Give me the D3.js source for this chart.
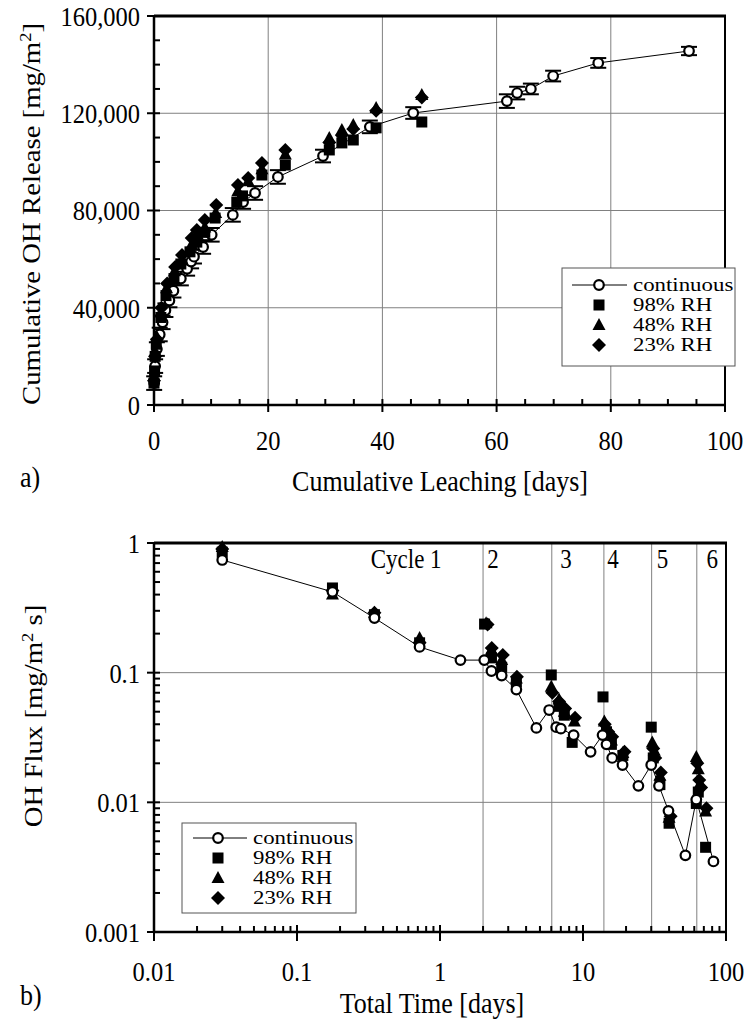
<!DOCTYPE html>
<html><head><meta charset="utf-8">
<script src="https://cdn.jsdelivr.net/npm/d3@7"></script>
<style>
html,body{margin:0;padding:0;background:#fff;}
svg{display:block;}
text{font-family:"Liberation Serif","Times New Roman",serif;fill:#000;}
</style></head><body>
<svg id="chart" width="746" height="1019"></svg>
<script>
// ---------- DATA: (a) cumulative OH release ----------
const seriesNames = ["continuous", "98% RH", "48% RH", "23% RH"];
const topXTicks = [0, 20, 40, 60, 80, 100];
const topYTicks = [0, 40000, 80000, 120000, 160000];

const contDays    = [0.03, 0.2, 0.5, 1.0, 1.5, 2.0, 2.7, 3.4, 4.7, 5.8, 6.5, 7.0, 8.6, 10.1, 13.8, 15.6, 17.7, 21.7, 29.6, 37.8, 45.4, 61.8, 63.6, 66.0, 69.9, 77.8, 93.7];
const contRelease = [9000, 16000, 23000, 29000, 34000, 39000, 43000, 47000, 52000, 56000, 59000, 61000, 65000, 70000, 78200, 83500, 87200, 93800, 102400, 114400, 120100, 125000, 128300, 130000, 135300, 140700, 145600];
const contErr     = [2800, 2800, 2800, 2800, 2800, 2800, 2800, 2800, 2800, 2800, 2800, 2800, 2800, 2800, 2800, 2800, 2800, 2800, 2600, 2600, 2400, 2800, 2600, 2200, 2200, 2000, 1700];

const rh98Days    = [0, 0.1, 0.2, 0.4, 1.2, 2.1, 3.5, 4.7, 6.3, 7.5, 8.9, 10.7, 14.5, 15.5, 18.9, 23.0, 30.7, 32.9, 34.9, 38.9, 46.9];
const rh98Release = [9000, 14000, 20000, 25000, 36000, 45000, 52000, 58000, 63000, 67000, 71000, 76900, 83500, 86000, 94600, 98700, 104900, 107800, 109000, 114000, 116400];

const rh48Days    = [0, 0.2, 0.5, 1.2, 2.2, 3.6, 4.9, 6.6, 7.6, 8.9, 10.8, 14.7, 16.5, 18.9, 23.0, 30.7, 32.9, 34.9, 38.9, 46.9];
const rh48Release = [12000, 22000, 28000, 38000, 48000, 55000, 60000, 66000, 70000, 73000, 79000, 88000, 92000, 97000, 103000, 109800, 113100, 115200, 122200, 127500];

const rh23Days    = [0, 0.2, 0.5, 1.3, 2.3, 3.7, 4.9, 6.6, 7.5, 8.9, 10.9, 14.7, 16.5, 18.9, 23.0, 30.7, 32.9, 34.9, 38.9, 46.9];
const rh23Release = [10000, 20000, 27000, 40000, 50000, 56800, 61700, 68700, 72000, 76100, 82300, 90500, 93400, 99500, 104900, 108000, 111000, 113500, 121000, 126500];

// ---------- DATA: (b) OH flux ----------
const botXTicks = [0.01, 0.1, 1, 10, 100];
const botXLabels = ["0.01", "0.1", "1", "10", "100"];
const botYTicks = [0.001, 0.01, 0.1, 1];
const botYLabels = ["0.001", "0.01", "0.1", "1"];
const cycleBounds = [2.0, 6.05, 14.0, 30.2, 62.5];
const cycleLabels = ["Cycle 1", "2", "3", "4", "5", "6"];
const cycleLabelX = [0.58, 2.35, 7.6, 16.2, 36, 80];

const contTime = [0.030, 0.177, 0.348, 0.72, 1.39, 2.04, 2.29, 2.7, 3.42, 4.72, 5.8, 6.5, 7.0, 8.6, 11.3, 13.7, 14.6, 16.0, 18.9, 24.4, 30.0, 34.0, 39.6, 52.0, 62.0, 81.7];
const contFlux = [0.74, 0.42, 0.264, 0.158, 0.125, 0.125, 0.103, 0.095, 0.074, 0.0375, 0.0515, 0.038, 0.037, 0.033, 0.0245, 0.033, 0.028, 0.022, 0.0194, 0.0134, 0.0194, 0.0134, 0.0086, 0.0039, 0.0105, 0.0035];

const rh98Time = [0.030, 0.177, 0.348, 0.72, 2.05, 2.29, 2.7, 3.42, 6.0, 6.8, 7.4, 8.4, 13.8, 14.6, 15.8, 19.0, 30.0, 31.0, 34.5, 40.0, 62.0, 64.0, 72.0];
const rh98Flux = [0.85, 0.45, 0.28, 0.17, 0.237, 0.13, 0.11, 0.085, 0.096, 0.055, 0.047, 0.029, 0.065, 0.035, 0.028, 0.023, 0.038, 0.022, 0.0137, 0.0069, 0.0098, 0.012, 0.0045];

const rh48Time = [0.030, 0.177, 0.348, 0.72, 2.1, 2.29, 2.7, 3.42, 6.0, 6.8, 7.4, 8.7, 14.1, 14.8, 15.8, 19.0, 30.5, 31.5, 34.5, 40.0, 62.0, 64.0, 66.0, 72.0];
const rh48Flux = [0.93, 0.40, 0.29, 0.185, 0.24, 0.15, 0.125, 0.09, 0.078, 0.062, 0.05, 0.042, 0.042, 0.036, 0.03, 0.024, 0.029, 0.025, 0.016, 0.0076, 0.0224, 0.018, 0.014, 0.0085];

const rh23Time = [0.030, 0.177, 0.348, 0.72, 2.15, 2.3, 2.75, 3.45, 6.1, 6.8, 7.5, 8.8, 14.2, 15.0, 16.0, 19.5, 31.0, 32.0, 35.0, 41.0, 63.0, 65.0, 67.0, 73.0];
const rh23Flux = [0.9, 0.43, 0.29, 0.17, 0.235, 0.155, 0.137, 0.093, 0.07, 0.06, 0.053, 0.045, 0.04, 0.035, 0.032, 0.0245, 0.026, 0.022, 0.017, 0.0078, 0.02, 0.0149, 0.013, 0.009];

// ---------- DRAWING ----------
const svg = d3.select("#chart");
const SY = 1.15;          // text is slightly tall/narrow in the reference
const TICKF = 24.5, TITLEF = 26, LEGF = 18, LEGSX = 1.27;
const GRID = "#808080";

function txt(g, x, y, s, size, anchor) {
  return g.append("text").attr("transform", `translate(${x},${y}) scale(1,${SY})`)
    .attr("dy", "0.35em").attr("text-anchor", anchor || "start").attr("font-size", size).text(s);
}

function marker(g, type, x, y) {
  if (type === "circle") {
    g.append("circle").attr("cx", x).attr("cy", y).attr("r", 4.8)
      .attr("fill", "#fff").attr("stroke", "#000").attr("stroke-width", 2.2);
  } else if (type === "square") {
    g.append("rect").attr("x", x - 5.5).attr("y", y - 5.5).attr("width", 11).attr("height", 11).attr("fill", "#000");
  } else if (type === "triangle") {
    g.append("path").attr("d", `M${x},${y - 7}L${x + 6.5},${y + 5}L${x - 6.5},${y + 5}Z`).attr("fill", "#000");
  } else if (type === "diamond") {
    g.append("path").attr("d", `M${x},${y - 7}L${x + 7},${y}L${x},${y + 7}L${x - 7},${y}Z`).attr("fill", "#000");
  }
}
const types = ["circle", "square", "triangle", "diamond"];

function legend(g, x0, y0, w, h, rowH, textX, symX, lineX1, lineX2, firstY) {
  g.append("rect").attr("x", x0).attr("y", y0).attr("width", w).attr("height", h)
    .attr("fill", "#fff").attr("stroke", "#555").attr("stroke-width", 1);
  seriesNames.forEach((n, i) => {
    const cy = firstY + i * rowH;
    if (i === 0) g.append("line").attr("x1", lineX1).attr("x2", lineX2).attr("y1", cy).attr("y2", cy)
      .attr("stroke", "#000").attr("stroke-width", 1);
    marker(g, types[i], symX, cy);
    g.append("text").attr("transform", `translate(${textX},${cy}) scale(${LEGSX},1)`).attr("dy", "0.35em")
      .attr("font-size", LEGF).text(n);
  });
}

// ===== (a) =====
{
  const L = 154, R = 725, T = 16, B = 405;
  const x = d3.scaleLinear().domain([0, 100]).range([L, R]);
  const y = d3.scaleLinear().domain([0, 160000]).range([B, T]);
  const g = svg.append("g");

  [20, 40, 60, 80].forEach(v => g.append("line").attr("x1", x(v)).attr("x2", x(v)).attr("y1", T).attr("y2", B).attr("stroke", GRID).attr("stroke-width", 1));
  [40000, 80000, 120000].forEach(v => g.append("line").attr("x1", L).attr("x2", R).attr("y1", y(v)).attr("y2", y(v)).attr("stroke", GRID).attr("stroke-width", 1));

  g.append("line").attr("x1", L).attr("x2", R + 1).attr("y1", T).attr("y2", T).attr("stroke", "#000").attr("stroke-width", 3);
  g.append("line").attr("x1", R).attr("x2", R).attr("y1", T).attr("y2", B).attr("stroke", "#000").attr("stroke-width", 2);
  g.append("line").attr("x1", L).attr("x2", R).attr("y1", B).attr("y2", B).attr("stroke", "#000").attr("stroke-width", 2.5);
  g.append("line").attr("x1", L).attr("x2", L).attr("y1", T - 1).attr("y2", B).attr("stroke", "#000").attr("stroke-width", 2.5);

  d3.range(0, 101, 5).forEach(v => {
    const major = v % 20 === 0;
    g.append("line").attr("x1", x(v)).attr("x2", x(v)).attr("y1", B - 6).attr("y2", major ? B + 7 : B)
      .attr("stroke", "#000").attr("stroke-width", 2);
  });
  topXTicks.forEach(v => txt(g, x(v), 440, v, TICKF, "middle"));
  d3.range(0, 160001, 10000).forEach(v => {
    const major = v % 40000 === 0;
    g.append("line").attr("x1", major ? L - 7 : L).attr("x2", L + 6).attr("y1", y(v)).attr("y2", y(v))
      .attr("stroke", "#000").attr("stroke-width", 2);
  });
  topYTicks.forEach(v => txt(g, 140, y(v), d3.format(",")(v), TICKF, "end"));

  txt(g, 440, 481, "Cumulative Leaching [days]", TITLEF, "middle");
  txt(g, 20, 477, "a)", TITLEF, "start");
  const yt = g.append("text").attr("transform", `translate(31,214) scale(1,${SY}) rotate(-90)`).attr("text-anchor", "middle")
    .attr("dy", "0.35em").attr("font-size", 25);
  yt.append("tspan").text("Cumulative OH Release [mg/m");
  yt.append("tspan").attr("dy", -9).attr("font-size", 16).text("2");
  yt.append("tspan").attr("dy", 9).text("]");

  const pts = contDays.map((d, i) => [x(d), y(contRelease[i]), contErr[i], contRelease[i]]);
  g.append("path").attr("d", d3.line()(pts.map(p => [p[0], p[1]]))).attr("fill", "none").attr("stroke", "#000").attr("stroke-width", 1);
  pts.forEach(p => {
    const y1 = y(p[3] + p[2]), y2 = y(p[3] - p[2]);
    g.append("line").attr("x1", p[0]).attr("x2", p[0]).attr("y1", y1).attr("y2", y2).attr("stroke", "#000").attr("stroke-width", 2);
    [y1, y2].forEach(yy => g.append("line").attr("x1", p[0] - 8).attr("x2", p[0] + 8).attr("y1", yy).attr("y2", yy).attr("stroke", "#000").attr("stroke-width", 2));
  });
  pts.forEach(p => marker(g, "circle", p[0], p[1]));
  rh98Days.forEach((d, i) => marker(g, "square", x(d), y(rh98Release[i])));
  rh48Days.forEach((d, i) => marker(g, "triangle", x(d), y(rh48Release[i])));
  rh23Days.forEach((d, i) => marker(g, "diamond", x(d), y(rh23Release[i])));

  legend(g, 562, 268, 173, 98, 20, 633, 599, 572, 627, 285);
}

// ===== (b) =====
{
  const L = 154, R = 726, T = 543, B = 932;
  const x = d3.scaleLog().domain([0.01, 100]).range([L, R]);
  const y = d3.scaleLog().domain([0.001, 1]).range([B, T]);
  const g = svg.append("g");

  [0.01, 0.1].forEach(v => g.append("line").attr("x1", L).attr("x2", R).attr("y1", y(v)).attr("y2", y(v)).attr("stroke", GRID).attr("stroke-width", 1));
  cycleBounds.forEach(v => g.append("line").attr("x1", x(v)).attr("x2", x(v)).attr("y1", T).attr("y2", B).attr("stroke", GRID).attr("stroke-width", 1));

  g.append("line").attr("x1", L).attr("x2", R + 1).attr("y1", T).attr("y2", T).attr("stroke", "#000").attr("stroke-width", 3);
  g.append("line").attr("x1", R).attr("x2", R).attr("y1", T).attr("y2", B).attr("stroke", "#000").attr("stroke-width", 2);
  g.append("line").attr("x1", L).attr("x2", R).attr("y1", B).attr("y2", B).attr("stroke", "#000").attr("stroke-width", 2.5);
  g.append("line").attr("x1", L).attr("x2", L).attr("y1", T - 1).attr("y2", B).attr("stroke", "#000").attr("stroke-width", 2.5);

  botXTicks.forEach((dec, di) => {
    g.append("line").attr("x1", x(dec)).attr("x2", x(dec)).attr("y1", B - 7).attr("y2", B + 9).attr("stroke", "#000").attr("stroke-width", 2);
    txt(g, x(dec), 971, botXLabels[di], TICKF, "middle");
    if (dec < 100) d3.range(2, 10).forEach(m => g.append("line").attr("x1", x(dec * m)).attr("x2", x(dec * m)).attr("y1", B - 6).attr("y2", B).attr("stroke", "#000").attr("stroke-width", 2));
  });
  botYTicks.forEach((dec, di) => {
    g.append("line").attr("x1", L - 7).attr("x2", L + 6).attr("y1", y(dec)).attr("y2", y(dec)).attr("stroke", "#000").attr("stroke-width", 2);
    txt(g, 140, y(dec), botYLabels[di], TICKF, "end");
    if (dec < 1) d3.range(2, 10).forEach(m => g.append("line").attr("x1", L).attr("x2", L + 6).attr("y1", y(dec * m)).attr("y2", y(dec * m)).attr("stroke", "#000").attr("stroke-width", 2));
  });

  txt(g, 432, 1003, "Total Time [days]", TITLEF, "middle");
  txt(g, 20, 995, "b)", TITLEF, "start");
  const yt = g.append("text").attr("transform", `translate(33,716) scale(1,${SY}) rotate(-90)`).attr("text-anchor", "middle")
    .attr("dy", "0.35em").attr("font-size", 25);
  yt.append("tspan").text("OH Flux [mg/m");
  yt.append("tspan").attr("dy", -9).attr("font-size", 16).text("2");
  yt.append("tspan").attr("dy", 9).text(" s]");

  cycleLabels.forEach((c, i) => txt(g, x(cycleLabelX[i]), 559, c, 23, "middle"));

  rh98Time.forEach((t, i) => marker(g, "square", x(t), y(rh98Flux[i])));
  rh48Time.forEach((t, i) => marker(g, "triangle", x(t), y(rh48Flux[i])));
  rh23Time.forEach((t, i) => marker(g, "diamond", x(t), y(rh23Flux[i])));
  const pts = contTime.map((t, i) => [x(t), y(contFlux[i])]);
  g.append("path").attr("d", d3.line()(pts)).attr("fill", "none").attr("stroke", "#000").attr("stroke-width", 1);
  pts.forEach(p => marker(g, "circle", p[0], p[1]));

  legend(g, 182, 823, 174, 90, 20, 253, 218, 193, 247, 838);
}
</script>
</body></html>
